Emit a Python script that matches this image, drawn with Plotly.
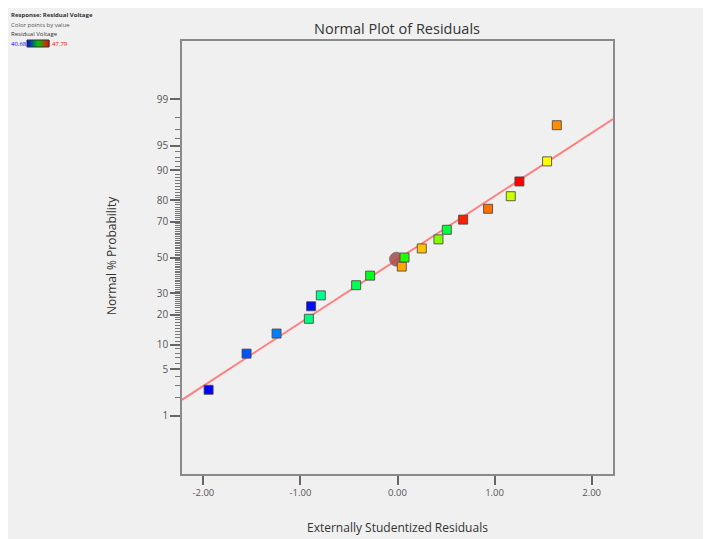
from statistics import NormalDist
import plotly.graph_objects as go

# ---------------- data ----------------
residuals = [-1.946, -1.555, -1.246, -0.913, -0.890, -0.790, -0.426, -0.282, 0.044, 0.072,
             0.250, 0.422, 0.508, 0.676, 0.933, 1.167, 1.256, 1.541, 1.641]
normal_pct = [2.6, 7.9, 13.2, 18.4, 23.7, 28.9, 34.2, 39.5, 44.7, 50.0,
              55.3, 60.5, 65.8, 71.1, 76.3, 81.6, 86.8, 92.1, 97.4]
residual_voltage = [40.68, 41.25, 41.57, 43.35, 40.75, 43.24, 43.67, 44.02, 46.65, 44.45,
                    46.44, 45.12, 43.81, 47.58, 47.01, 45.66, 47.79, 46.01, 46.79]
volt_min, volt_max = 40.68, 47.79

ref_line_x = [-2.22, 2.22]
ref_line_pct = [1.83, 97.9]

center_x = [-0.01]
center_pct = [49.0]

y_major_pct = [1, 5, 10, 20, 30, 50, 70, 80, 90, 95, 99]
y_minor_pct = [p for p in range(1, 100) if p not in y_major_pct]
x_ticks = [-2.0, -1.0, 0.0, 1.0, 2.0]

# ---------------- helpers ----------------
nd = NormalDist()
def z(p):
    return nd.inv_cdf(p / 100.0)

OFF = 8  # page body margin
W, H = 696, 531
# plot area in screen pixels
L, R, T, B = 182, 613, 41, 474
def px(xs):
    return (xs - L) / (R - L)
def py(ys):
    return (B - ys) / (B - T)

FONT = "Open Sans, Noto Sans, DejaVu Sans, sans-serif"
BG = "#f0f0f0"

point_scale = [[0.0, "#0000ff"], [0.25, "#00ffff"], [0.5, "#00ff00"],
               [0.75, "#ffff00"], [1.0, "#ff0000"]]

fig = go.Figure()

fig.add_trace(go.Scatter(
    x=ref_line_x, y=[z(p) for p in ref_line_pct], mode="lines",
    line=dict(color="rgb(255,128,128)", width=2), hoverinfo="skip", showlegend=False))

fig.add_trace(go.Scatter(
    x=center_x, y=[z(p) for p in center_pct], mode="markers",
    marker=dict(symbol="circle", size=14, color="rgba(168,72,72,0.85)",
                line=dict(color="rgba(120,120,120,0.9)", width=1)),
    showlegend=False))

fig.add_trace(go.Scatter(
    x=residuals, y=[z(p) for p in normal_pct], mode="markers",
    marker=dict(symbol="square", size=9, color=residual_voltage,
                colorscale=point_scale, cmin=volt_min, cmax=volt_max,
                line=dict(color="rgba(70,70,70,0.85)", width=1)),
    showlegend=False))

shapes = []
# mini colour bar (blue -> green -> red)
def lerp(a, b, t):
    return tuple(int(round(a[i] + (b[i] - a[i]) * t)) for i in range(3))
cb_x0, cb_x1, cb_y0, cb_y1 = 27, 49, 40, 47
nseg = 22
for i in range(nseg):
    t = (i + 0.5) / nseg
    if t < 0.5:
        c = lerp((0, 0, 255), (0, 200, 0), t / 0.5)
    else:
        c = lerp((0, 200, 0), (255, 0, 0), (t - 0.5) / 0.5)
    xa = cb_x0 + (cb_x1 - cb_x0) * i / nseg
    xb = cb_x0 + (cb_x1 - cb_x0) * (i + 1) / nseg
    shapes.append(dict(type="rect", xref="paper", yref="paper",
                       x0=px(xa), x1=px(xb) + 0.001, y0=py(cb_y1), y1=py(cb_y0),
                       fillcolor="rgb(%d,%d,%d)" % c, line=dict(width=0)))
shapes.append(dict(type="rect", xref="paper", yref="paper",
                   x0=px(cb_x0), x1=px(cb_x1), y0=py(cb_y1), y1=py(cb_y0),
                   line=dict(color="#333333", width=1)))

def note(text, xs, ys, size, color, xanchor="center", angle=0):
    return dict(text=text, x=px(xs), y=py(ys), xref="paper", yref="paper",
                xanchor=xanchor, yanchor="middle", textangle=angle, showarrow=False,
                font=dict(size=size, color=color, family=FONT))

annotations = [
    note("Externally Studentized Residuals", 397, 527, 12, "#333333"),
    note("Normal % Probability", 111, 256, 12, "#333333", angle=-90),
    note("<b>Response: Residual Voltage</b>", 9, 15, 6, "#333333", "left"),
    note("Color points by value", 9, 25, 6, "#555555", "left"),
    note("Residual Voltage", 9, 34, 6, "#333333", "left"),
    note("%.2f" % volt_min, 9, 44, 6, "#0000ff", "left"),
    note("%.2f" % volt_max, 50, 44, 6, "#ff0000", "left"),
]

axis_common = dict(showline=True, linecolor="#8a8a8a", linewidth=1.5, mirror=True,
                   showgrid=False, zeroline=False, ticks="outside",
                   tickcolor="#666666", tickwidth=1.5)

fig.update_layout(
    width=W, height=H,
    margin=dict(l=L - OFF, r=W - (R - OFF), t=T - OFF, b=H - (B - OFF), pad=0),
    paper_bgcolor=BG, plot_bgcolor=BG,
    title=dict(text="Normal Plot of Residuals", x=px(397), xanchor="center",
               y=1 - (29 - OFF) / H, yanchor="middle", xref="paper",
               font=dict(size=14.5, color="#333333", family=FONT)),
    xaxis=dict(range=[-2.22, 2.22], tickvals=x_ticks,
               ticktext=["%.2f" % v for v in x_ticks], ticklen=9,
               tickfont=dict(size=9.5, color="#555555", family=FONT), **axis_common),
    yaxis=dict(range=[-3.18, 3.18], tickvals=[z(p) for p in y_major_pct],
               ticktext=[str(p) for p in y_major_pct], ticklen=10,
               tickfont=dict(size=10, color="#555555", family=FONT),
               minor=dict(tickmode="array", tickvals=[z(p) for p in y_minor_pct],
                          ticks="outside", ticklen=5, tickcolor="#777777", tickwidth=1),
               **axis_common),
    shapes=shapes, annotations=annotations, showlegend=False,
)

fig.write_html("out.html")
